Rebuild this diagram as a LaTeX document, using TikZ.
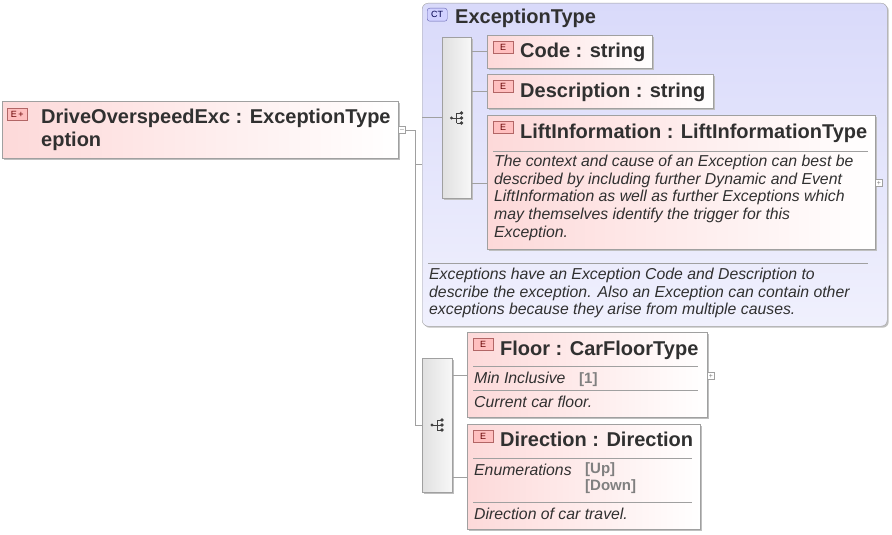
\documentclass[tikz,border=0pt]{standalone}
\usepackage{fontspec}
\setmainfont{Liberation Sans}
\usetikzlibrary{shadows,calc}
\definecolor{pinkE}{HTML}{FDD9D9}
\definecolor{ctfill}{HTML}{D9DAFA}
\definecolor{edge}{HTML}{A0A0A0}
\definecolor{txt}{HTML}{303030}
\definecolor{gtx}{HTML}{808080}
\tikzset{
  elbox/.style={draw=edge, left color=pinkE, right color=white, anchor=north west, inner sep=0pt,
     drop shadow={shadow xshift=1.5pt, shadow yshift=-1.5pt, fill=black!25, opacity=1}},
  ctbox/.style={draw=edge, rounded corners=6pt, top color=ctfill, bottom color=ctfill!40, anchor=north west, inner sep=0pt,
     drop shadow={shadow xshift=1.5pt, shadow yshift=-1.5pt, fill=black!25, opacity=1}},
  seqbox/.style={draw=edge, left color=black!12, right color=black!3, anchor=north west, inner sep=0pt,
     drop shadow={shadow xshift=1.5pt, shadow yshift=-1.5pt, fill=black!25, opacity=1}},
  ttl/.style={anchor=base west, inner sep=0pt, font=\fontsize{20}{22}\selectfont\bfseries, text=txt},
  dsc/.style={anchor=base west, inner sep=0pt, font=\fontsize{15.8}{17.6}\selectfont\itshape, text=txt, align=left},
  dscm/.style={dsc, anchor=north west},
  fac/.style={anchor=base west, inner sep=0pt, font=\fontsize{15}{17.6}\selectfont\bfseries, text=gtx, align=left},
  ebadge/.style={draw=red!50!black!60, fill=red!25, minimum width=20pt, minimum height=12pt, inner sep=0pt, anchor=north west, font=\fontsize{9}{9}\selectfont, text=red!40!black},
  pm/.style={draw=edge, fill=white, minimum size=7pt, inner sep=0pt, font=\fontsize{7}{7}\selectfont, text=gtx},
  cn/.style={draw=edge, line width=0.8pt},
  sepl/.style={draw=edge, line width=0.7pt}
}
\newcommand{\seqicon}[1]{%
  \fill[black!75] ($(#1)+(-5,0)$) circle (1.6pt);
  \draw[black!75, line width=0.8pt] ($(#1)+(-5,0)$) -- ($(#1)+(0,0)$) ($(#1)+(0,-5)$) -- ($(#1)+(0,5)$)
     ($(#1)+(0,-5)$) -- ($(#1)+(4,-5)$) ($(#1)+(0,0)$) -- ($(#1)+(4,0)$) ($(#1)+(0,5)$) -- ($(#1)+(4,5)$);
  \fill[black!75] ($(#1)+(5,-5)$) circle (1.8pt) ($(#1)+(5,0)$) circle (1.8pt) ($(#1)+(5,5)$) circle (1.8pt);}
\begin{document}
\begin{tikzpicture}[x=1pt,y=-1pt]
\useasboundingbox (0,0) rectangle (892,535);
% root
\node[elbox, minimum width=396pt, minimum height=57pt] (root) at (2,101) {};
\node[ebadge] (rb) at (7,108) {E\,+};
\node[ttl] (rt) at (41,123) {DriveOverspeedExc : ExceptionType};
\node[ttl] (rt2) at (41,146) {eption};
\node[pm] (rm) at (402,130) {--};
% CT box
\node[ctbox, minimum width=465pt, minimum height=323pt] (ct) at (422,3) {};
\node[draw=blue!50!black!60, fill=blue!18, rounded corners=2.5pt, minimum width=20pt, minimum height=13pt, inner sep=0pt, anchor=north west, font=\fontsize{9}{9}\selectfont, text=blue!30!black] (ctb) at (427,8) {CT};
\node[ttl] (ctt) at (455,24) {ExceptionType};
\node[seqbox, minimum width=29pt, minimum height=161pt] (s1) at (442,37) {};
\coordinate (s1c) at (456.5,118);
\seqicon{s1c}
% Code
\node[elbox, minimum width=165pt, minimum height=33pt] (code) at (487,35) {};
\node[ebadge] at (493,41) {E};
\node[ttl] at (520,58) {Code : string};
% Description
\node[elbox, minimum width=226pt, minimum height=34pt] (desc) at (487,74) {};
\node[ebadge] at (493,80) {E};
\node[ttl] at (520,97) {Description : string};
% LiftInformation
\node[elbox, minimum width=388pt, minimum height=134pt] (lift) at (487,115) {};
\node[ebadge] at (493,121) {E};
\node[ttl] at (520,138) {LiftInformation : LiftInformationType};
\draw[sepl] (493,151) -- (868,151);
\node[dscm] at (494,155) {The context and cause of an Exception can best be\\described by including further Dynamic and Event\\LiftInformation as well as further Exceptions which\\may themselves identify the trigger for this\\Exception.};
\node[pm] (lp) at (879,183) {+};
% CT description
\draw[sepl] (428,263) -- (868,263);
\node[dscm] at (429,268) {Exceptions have an Exception Code and Description to\\describe the exception. Also an Exception can contain other\\exceptions because they arise from multiple causes.};
% second sequence
\node[seqbox, minimum width=30pt, minimum height=134pt] (s2) at (422,358) {};
\coordinate (s2c) at (437,425);
\seqicon{s2c}
% Floor
\node[elbox, minimum width=240pt, minimum height=85pt] (floor) at (467,332) {};
\node[ebadge] at (473,338) {E};
\node[ttl] at (500,355) {Floor : CarFloorType};
\draw[sepl] (473,366) -- (698,366);
\node[dsc] at (474,383) {Min Inclusive};
\node[fac] at (579,383) {[1]};
\draw[sepl] (473,390) -- (698,390);
\node[dsc] at (474,407) {Current car floor.};
\node[pm] (fp) at (711,376) {+};
% Direction
\node[elbox, minimum width=233pt, minimum height=105pt] (dir) at (467,424) {};
\node[ebadge] at (473,430) {E};
\node[ttl] at (500,446) {Direction : Direction};
\draw[sepl] (473,458) -- (692,458);
\node[dsc] at (474,475) {Enumerations};
\node[fac, anchor=north west] at (585,462) {[Up]\\{}[Down]};
\draw[sepl] (473,502) -- (692,502);
\node[dsc] at (474,519) {Direction of car travel.};
% connectors
\coordinate (j) at (415,130);
\draw[cn] (rm.east) -- (j) -- (j |- s2.west) -- (s2.west);
\draw[cn] (j |- 0,164) -- (ct.west |- 0,164);
\draw[cn] (ct.west |- s1.west) -- (s1.west);
\draw[cn] (s1.east |- code.west) -- (code.west);
\draw[cn] (s1.east |- desc.west) -- (desc.west);
\draw[cn] (s1.east |- 0,183) -- (lift.west |- 0,183);
\draw[cn] (s2.east |- 0,375) -- (floor.west |- 0,375);
\draw[cn] (s2.east |- 0,477) -- (dir.west |- 0,477);
\end{tikzpicture}
\end{document}
